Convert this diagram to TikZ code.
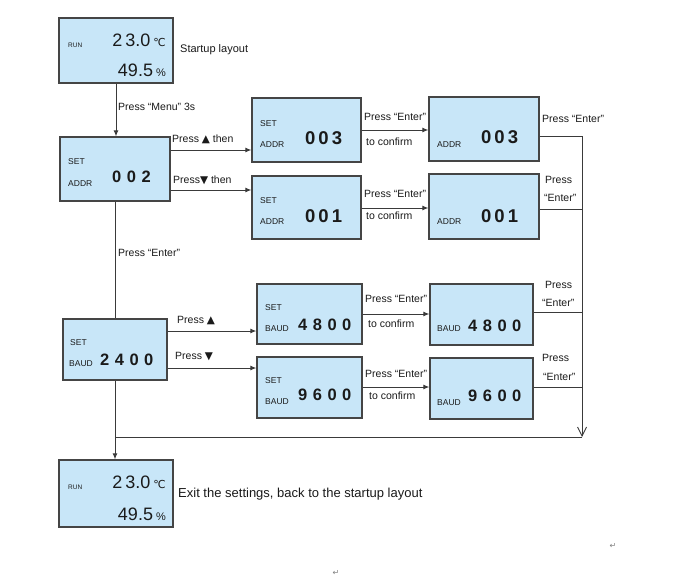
\documentclass[tikz,border=0pt]{standalone}
\usepackage{fontspec}
\setmainfont{Liberation Sans}
\newfontfamily\dejavu{DejaVu Sans}
\usetikzlibrary{arrows.meta}
\definecolor{lcdblue}{HTML}{C8E6F8}
\definecolor{boxline}{HTML}{454545}
\definecolor{wire}{HTML}{3A3A3A}
\definecolor{txt}{HTML}{1A1A1A}
\newcommand\gapA{\hspace{3pt}}
\newcommand\gapB{\hspace{5.5pt}}
\begin{document}
\begin{tikzpicture}[x=1pt,y=-1pt,
  lcd/.style={draw=boxline, line width=1.3pt, fill=lcdblue, inner sep=0pt},
  lbl/.style={anchor=west, inner sep=0pt, text=txt, font=\fontsize{10.5}{12}\selectfont},
  biglbl/.style={anchor=west, inner sep=0pt, text=txt, font=\fontsize{11}{13}\selectfont},
  small/.style={anchor=west, inner sep=0pt, text=txt, font=\fontsize{8.5}{10}\selectfont},
  tiny/.style={anchor=west, inner sep=0pt, text=txt, font=\fontsize{6.5}{8}\selectfont},
  digA/.style={anchor=west, inner sep=0pt, text=txt, font=\fontsize{18.5}{20}\selectfont\bfseries},
  digB/.style={anchor=west, inner sep=0pt, text=txt, font=\fontsize{16.5}{20}\selectfont\bfseries},
  temp/.style={anchor=east, inner sep=0pt, text=txt, font=\fontsize{18}{20}\selectfont},
  ln/.style={draw=wire, line width=1pt},
  arr/.style={ln, -{Latex[length=6pt,width=5pt]}},
  vtip/.style={ln, -{Straight Barb[length=9pt,width=9pt,line width=0.9pt]}},
  pmark/.style={anchor=center, inner sep=0pt, text=gray, font=\dejavu\fontsize{8}{9}\selectfont}
]
\fill[white] (0,0) rectangle (677,581);
\useasboundingbox (0,0) rectangle (677,581);

% boxes
\node[lcd, minimum width=114pt, minimum height=65pt] (start) at (116,50.5) {};
\node[lcd, minimum width=110pt, minimum height=64pt] (addr) at (115,169) {};
\node[lcd, minimum width=109pt, minimum height=64pt] (a3) at (306.5,130) {};
\node[lcd, minimum width=109pt, minimum height=63pt] (a1) at (306.5,207.5) {};
\node[lcd, minimum width=110pt, minimum height=64pt] (a3b) at (484,129) {};
\node[lcd, minimum width=110pt, minimum height=65pt] (a1b) at (484,206.5) {};
\node[lcd, minimum width=104pt, minimum height=61pt] (baud) at (115,349.5) {};
\node[lcd, minimum width=105pt, minimum height=60pt] (b48) at (309.5,314) {};
\node[lcd, minimum width=105pt, minimum height=61pt] (b96) at (309.5,387.5) {};
\node[lcd, minimum width=103pt, minimum height=61pt] (b48b) at (481.5,314.5) {};
\node[lcd, minimum width=103pt, minimum height=61pt] (b96b) at (481.5,388.5) {};
\node[lcd, minimum width=114pt, minimum height=67pt] (end) at (116,493.5) {};

% box contents
\node[tiny] (runA) at (68,45) {RUN};
\node[temp] (tA) at (166,40) {2\gapA3.0\,{\dejavu\fontsize{11}{12}\selectfont ℃}};
\node[temp] (hA) at (166,70) {49.5\,{\fontsize{11}{12}\selectfont\%}};

\node[small] (s1) at (68,162) {SET};
\node[small] (d1) at (68,184) {ADDR};
\node[digB] (v1) at (112,177) {0\gapB0\gapB2};

\node[small] (s2) at (260,124) {SET};
\node[small] (d2) at (260,145) {ADDR};
\node[digA] (v2) at (305,138) {0\gapA0\gapA3};

\node[small] (s3) at (260,201) {SET};
\node[small] (d3) at (260,222) {ADDR};
\node[digA] (v3) at (305,216) {0\gapA0\gapA1};

\node[small] (d4) at (437,145) {ADDR};
\node[digA] (v4) at (481,137) {0\gapA0\gapA3};

\node[small] (d5) at (437,222) {ADDR};
\node[digA] (v5) at (481,216) {0\gapA0\gapA1};

\node[small] (s6) at (70,343) {SET};
\node[small] (d6) at (69,364) {BAUD};
\node[digB] (v6) at (100,360) {2\gapB4\gapB0\gapB0};

\node[small] (s7) at (265,308) {SET};
\node[small] (d7) at (265,329) {BAUD};
\node[digB] (v7) at (298,325) {4\gapB8\gapB0\gapB0};

\node[small] (s8) at (265,381) {SET};
\node[small] (d8) at (265,402) {BAUD};
\node[digB] (v8) at (298,395) {9\gapB6\gapB0\gapB0};

\node[small] (d9) at (437,329) {BAUD};
\node[digB] (v9) at (468,326) {4\gapB8\gapB0\gapB0};

\node[small] (d10) at (437,403) {BAUD};
\node[digB] (v10) at (468,396) {9\gapB6\gapB0\gapB0};

\node[tiny] (runB) at (68,487) {RUN};
\node[temp] (tB) at (166,482) {2\gapA3.0\,{\dejavu\fontsize{11}{12}\selectfont ℃}};
\node[temp] (hB) at (166,514) {49.5\,{\fontsize{11}{12}\selectfont\%}};

% row coordinates
\coordinate (r150) at (0,150);
\coordinate (r190) at (0,190);
\coordinate (r130) at (0,130);
\coordinate (r208) at (0,208);
\coordinate (r136) at (0,136);
\coordinate (r209) at (0,209);
\coordinate (r331) at (0,331);
\coordinate (r368) at (0,368);
\coordinate (r314) at (0,314);
\coordinate (r387) at (0,387);
\coordinate (r312) at (0,312);
\coordinate (rbot) at (0,437);
\coordinate (rx) at (582,0);

% connectors
\draw[arr] (start.south) -- (start.south |- addr.north);
\draw[arr] (addr.east |- r150) -- (a3.west |- r150);
\draw[arr] (addr.east |- r190) -- (a1.west |- r190);
\draw[arr] (a3.east |- r130) -- (a3b.west |- r130);
\draw[arr] (a1.east |- r208) -- (a1b.west |- r208);
\draw[ln] (a3b.east |- r136) -- (rx |- r136);
\draw[ln] (a1b.east |- r209) -- (rx |- r209);
\draw[ln] (addr.south) -- (addr.south |- baud.north);
\draw[arr] (baud.east |- r331) -- (b48.west |- r331);
\draw[arr] (baud.east |- r368) -- (b96.west |- r368);
\draw[arr] (b48.east |- r314) -- (b48b.west |- r314);
\draw[arr] (b96.east |- r387) -- (b96b.west |- r387);
\draw[ln] (b48b.east |- r312) -- (rx |- r312);
\draw[ln] (b96b.east |- r387) -- (rx |- r387);
\draw[vtip] (rx |- r136) -- (rx |- rbot);
\draw[ln] (rx |- rbot) -- (baud.south |- rbot);
\draw[arr] (baud.south) -- (baud.south |- end.north);

% labels
\node[biglbl] (l1) at (180,50) {Startup layout};
\node[lbl] (l2) at (118,107) {Press “Menu” 3s};
\node[lbl] (l3) at (172,139) {Press {\dejavu ▲} then};
\node[lbl] (l4) at (173,180) {Press{\dejavu ▼} then};
\node[lbl] (l5) at (364,117) {Press “Enter”};
\node[lbl] (l6) at (366,142) {to confirm};
\node[lbl] (l7) at (364,194) {Press “Enter”};
\node[lbl] (l8) at (366,216) {to confirm};
\node[lbl] (l9) at (542,119) {Press “Enter”};
\node[lbl] (l10) at (545,180) {Press};
\node[lbl] (l11) at (544,198) {“Enter”};
\node[lbl] (l12) at (118,253) {Press “Enter”};
\node[lbl] (l13) at (177,321) {Press {\dejavu ▲}};
\node[lbl] (l14) at (175,357) {Press {\dejavu ▼}};
\node[lbl] (l15) at (365,299) {Press “Enter”};
\node[lbl] (l16) at (368,324) {to confirm};
\node[lbl] (l17) at (365,374) {Press “Enter”};
\node[lbl] (l18) at (369,396) {to confirm};
\node[lbl] (l19) at (545,285) {Press};
\node[lbl] (l20) at (542,303) {“Enter”};
\node[lbl] (l21) at (542,358) {Press};
\node[lbl] (l22) at (543,377) {“Enter”};
\node[anchor=west, inner sep=0pt, text=txt, font=\fontsize{13}{15}\selectfont] (l23) at (178,494) {Exit the settings, back to the startup layout};

% paragraph marks
\node[pmark] (pm1) at (613,546) {↵};
\node[pmark] (pm2) at (336,573) {↵};
\end{tikzpicture}
\end{document}
